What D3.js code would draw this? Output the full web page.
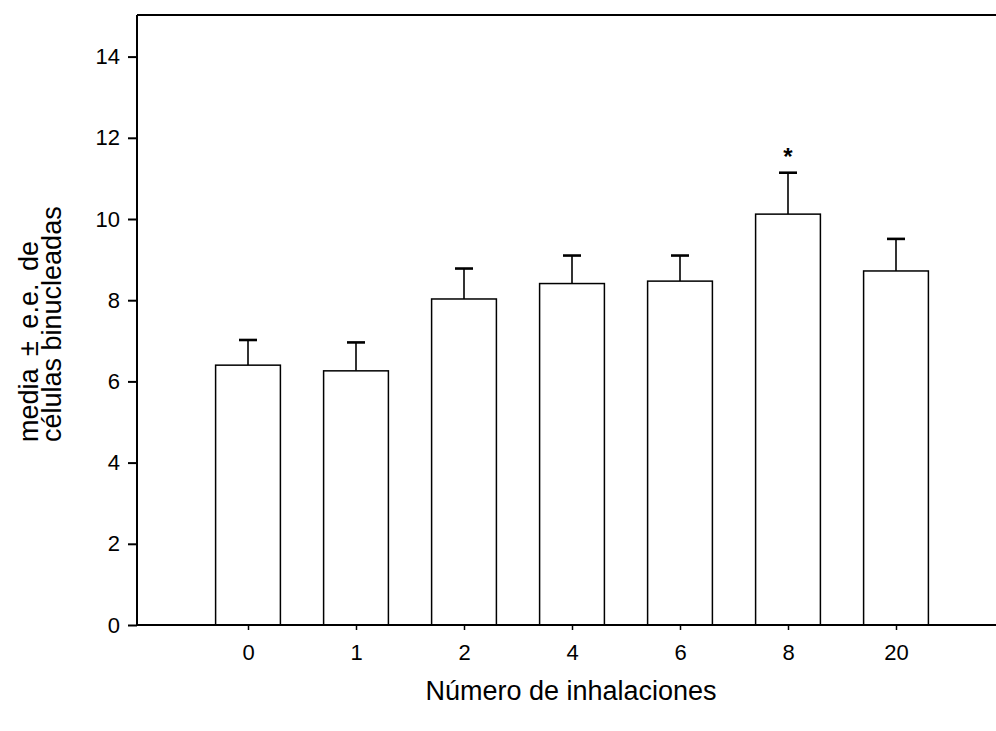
<!DOCTYPE html>
<html><head><meta charset="utf-8">
<script src="https://cdn.jsdelivr.net/npm/d3@7"></script>
<style>body{margin:0;background:#fff}svg{display:block}text{font-family:"Liberation Sans",Arial,sans-serif;fill:#000}</style>
</head><body>
<svg id="c" width="996" height="731"></svg>
<script>
const categories = ["0","1","2","4","6","8","20"];
const means = [6.40, 6.26, 8.03, 8.41, 8.47, 10.12, 8.72];
const errTop = [7.02, 6.96, 8.78, 9.10, 9.10, 11.14, 9.51];
const significant = [false,false,false,false,false,true,false];
const yTicks = [0,2,4,6,8,10,12,14];

(function () {
const svg = d3.select("#c");
const mLeft = 137, mRight = 1004, mTop = 15, mBottom = 625;
const x = d3.scaleLinear().domain([-1.0278, 7]).range([mLeft, mRight]);
const y = d3.scaleLinear().domain([0, 15]).range([mBottom, mTop + 1]);
const step = x(1) - x(0);
const bw = step * 0.6;

const g = svg.append("g");
categories.forEach((c, i) => {
  const cx = x(i);
  g.append("line").attr("x1", cx).attr("x2", cx).attr("y1", y(means[i])).attr("y2", y(errTop[i]))
    .attr("stroke", "#000").attr("stroke-width", 1.6);
  g.append("line").attr("x1", cx - 9).attr("x2", cx + 9).attr("y1", y(errTop[i])).attr("y2", y(errTop[i]))
    .attr("stroke", "#000").attr("stroke-width", 2.6);
  g.append("rect").attr("x", cx - bw / 2).attr("y", y(means[i])).attr("width", bw).attr("height", y(0) - y(means[i]))
    .attr("fill", "#fff").attr("stroke", "#000").attr("stroke-width", 1.5);
  if (significant[i]) {
    g.append("text").attr("x", cx).attr("y", y(errTop[i]) - 8).attr("text-anchor", "middle")
      .style("font-size", "24px").style("font-weight", "bold").text("*");
  }
});

svg.append("line").attr("x1", mLeft).attr("x2", 996).attr("y1", mTop).attr("y2", mTop).attr("stroke", "#000").attr("stroke-width", 2);

const ya = svg.append("g").attr("transform", `translate(${mLeft},0)`)
  .call(d3.axisLeft(y).tickValues(yTicks).tickSize(9).tickPadding(8).tickFormat(d3.format("d")));
ya.select(".domain").attr("d", `M0,${mBottom}V${mTop}`).attr("stroke-width", 2);
ya.selectAll(".tick line").attr("stroke-width", 2);
ya.selectAll(".tick text").style("font-size", "22px").style("font-family", "Liberation Sans, Arial, sans-serif");

const xa = svg.append("g").attr("transform", `translate(0,${mBottom})`)
  .call(d3.axisBottom(x).tickValues(d3.range(categories.length)).tickSize(5).tickPadding(14).tickFormat(i => categories[i]));
xa.select(".domain").attr("d", `M${mLeft},0H996`).attr("stroke-width", 2);
xa.selectAll(".tick line").attr("stroke-width", 1.5);
xa.selectAll(".tick text").style("font-size", "22px").style("font-family", "Liberation Sans, Arial, sans-serif");

svg.append("text").attr("x", 571).attr("y", 700).attr("text-anchor", "middle").style("font-size", "27px")
  .text("Número de inhalaciones");
svg.append("text").attr("transform", "translate(38,442) rotate(-90)").attr("text-anchor", "start")
  .style("font-size", "27px").style("word-spacing", "5px").text("media ± e.e. de");
svg.append("text").attr("transform", "translate(61,442) rotate(-90)").attr("text-anchor", "start")
  .style("font-size", "27px").text("células binucleadas");
})();
</script>
</body></html>
